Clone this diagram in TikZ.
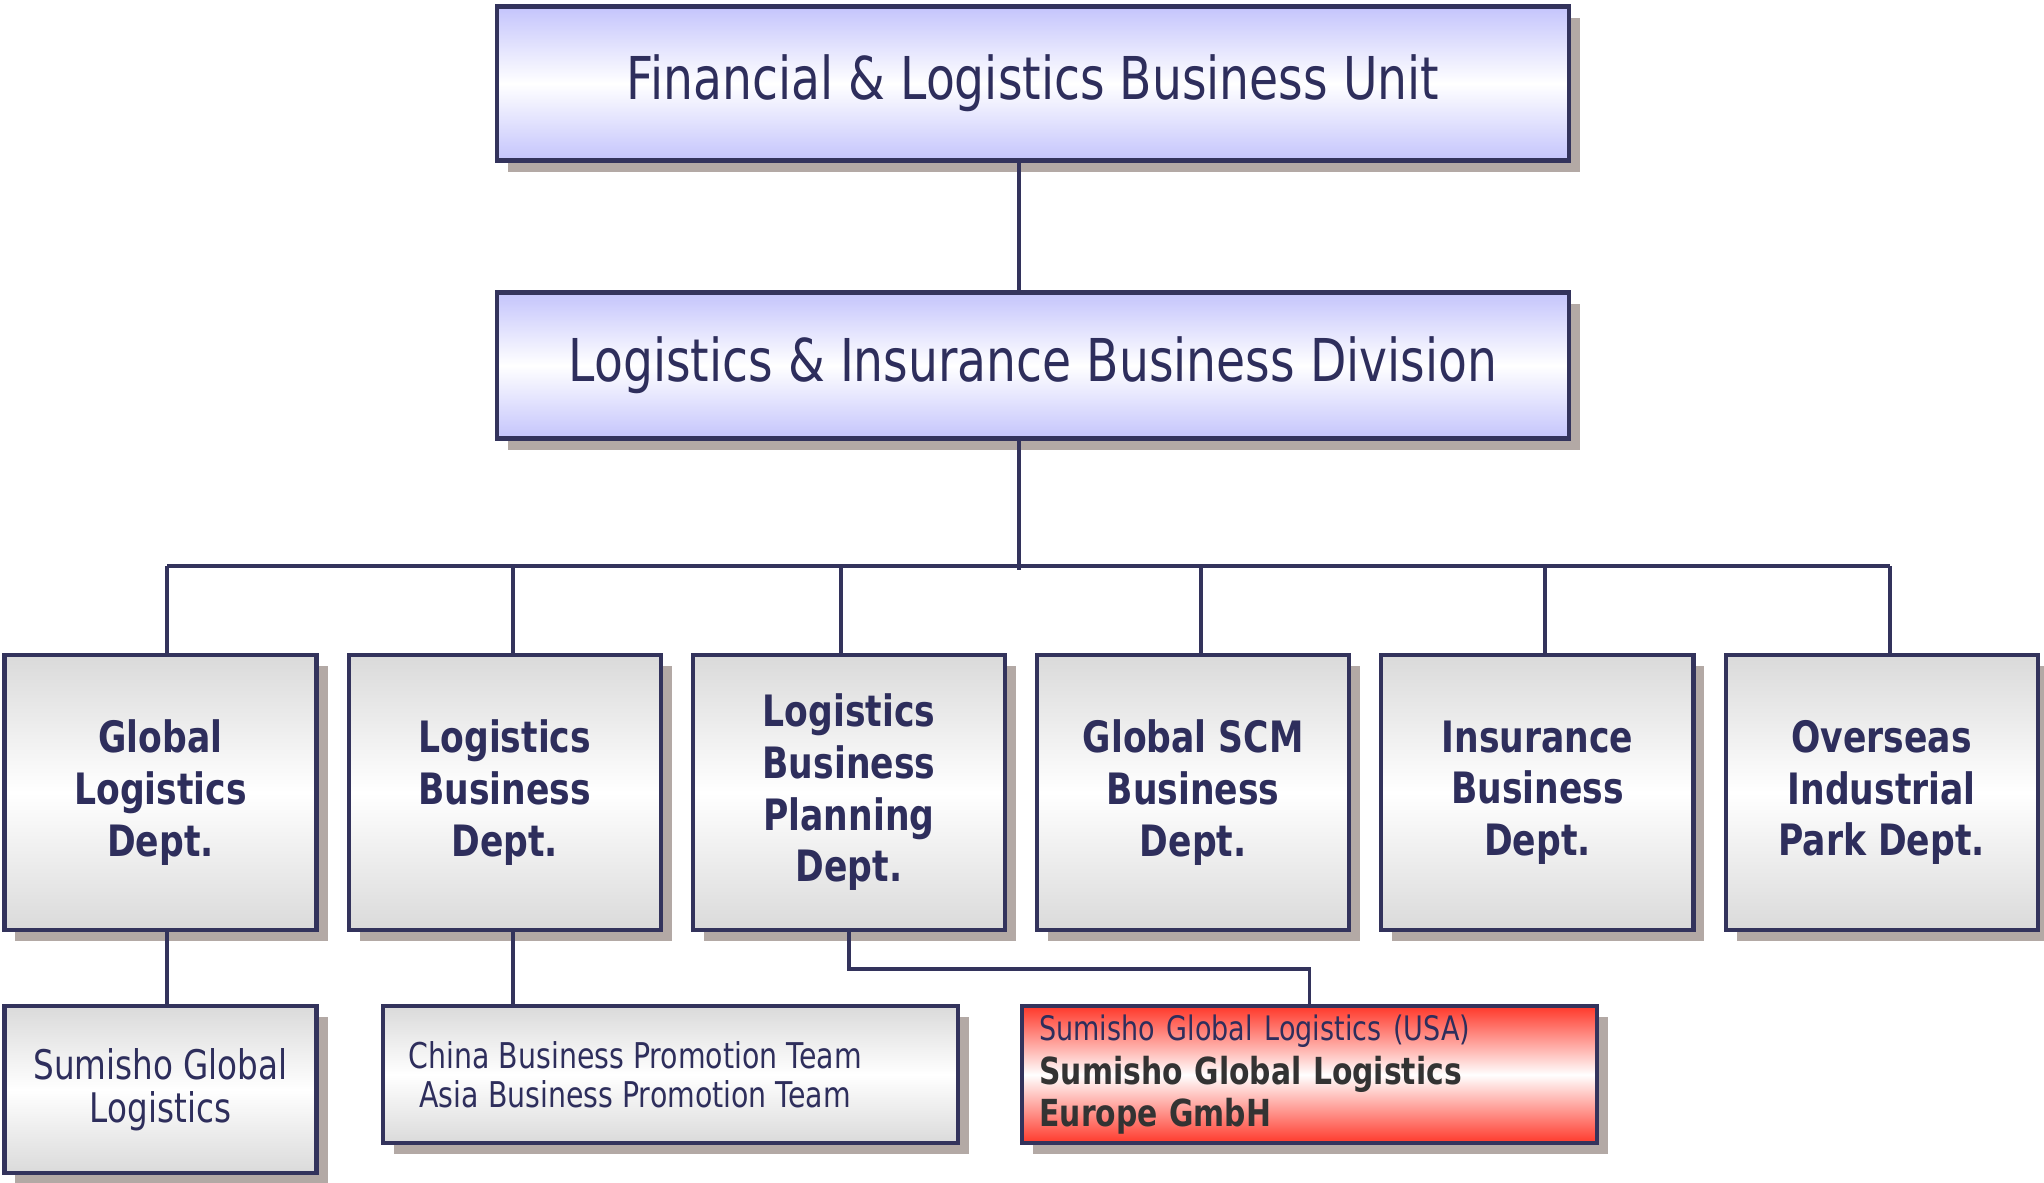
\documentclass[tikz,border=0pt]{standalone}
\usepackage{fontspec}
\setmainfont{DejaVu Sans}[FakeStretch=0.8]
\usetikzlibrary{positioning, shadows}

\definecolor{frame}{RGB}{51,51,92}
\definecolor{ink}{RGB}{46,46,92}
\definecolor{lav}{RGB}{196,196,252}
\definecolor{lgray}{RGB}{218,218,218}
\definecolor{hot}{RGB}{255,56,42}
\definecolor{shade}{RGB}{179,169,165}
\definecolor{dgray}{RGB}{51,51,51}

\tikzset{
  box/.style={draw=frame, line width=1.2pt, text=ink, align=center, inner sep=0pt,
    drop shadow={shadow xshift=0.11cm, shadow yshift=-0.11cm, fill=shade, opacity=1}},
  unit/.style={box, top color=lav, bottom color=lav, middle color=white,
    minimum width=10.72cm, font=\fontsize{16.8}{19}\selectfont},
  dept/.style={box, top color=lgray, bottom color=lgray, middle color=white,
    minimum width=3.12cm, minimum height=2.75cm, font=\bfseries\fontsize{12.3}{14.7}\selectfont},
  team/.style={box, top color=lgray, bottom color=lgray, middle color=white},
  link/.style={draw=frame, line width=1.1pt}
}

\begin{document}
\begin{tikzpicture}
        \useasboundingbox (0,0) rectangle (20.44,-11.82);
        \node[unit, minimum height=1.54cm] (flbu) at (10.33,-0.835) {Financial \& Logistics Business Unit};
        \node[unit, minimum height=1.46cm] (libd) at (10.33,-3.655) {Logistics \& Insurance Business Division};
        %---------------------------
        \node[dept] (gld) at (1.605,-7.925) {Global\\Logistics\\Dept.};
        \node[dept, right=0.28cm of gld] (lbd) {Logistics\\Business\\Dept.};
        \node[dept, right=0.28cm of lbd] (lbp) {Logistics\\Business\\Planning\\Dept.};
        \node[dept, right=0.28cm of lbp] (scm) {Global SCM\\Business\\Dept.};
        \node[dept, right=0.28cm of scm] (ibd) {Insurance\\Business\\Dept.};
        \node[dept, right=0.28cm of ibd] (oip) {Overseas\\Industrial\\Park Dept.};
        %---------------------------
        \node[team, minimum width=3.12cm, minimum height=1.67cm, below=0.72cm of gld,
          font=\fontsize{11.6}{12.4}\selectfont] (sgl) {Sumisho Global\\Logistics};
        \node[team, minimum width=5.75cm, minimum height=1.37cm, anchor=north west,
          label={[text=ink, align=center, xshift=-0.35cm, font=\fontsize{10.1}{11}\selectfont]center:China Business Promotion Team\\Asia Business Promotion Team}]
          (cbp) at ([xshift=0.62cm]sgl.north east) {};
        \node[team, top color=hot, bottom color=hot, middle color=white, minimum height=1.37cm, anchor=north west,
          text width=5.4cm, inner xsep=0.175cm, align=left] (sgle) at ([xshift=0.6cm]cbp.north east)
          {\fontsize{9.6}{11.6}\selectfont Sumisho Global Logistics (USA)\\
           \fontsize{10.6}{12.4}\selectfont\bfseries\color{dgray}Sumisho Global Logistics\\Europe GmbH};
        %--------------------------
        \coordinate (bus) at (0,-5.66);
        \draw[link] ([xshift=-0.14cm]flbu.south) -- ([xshift=-0.14cm]libd.north);
        \draw[link] ([xshift=-0.14cm]libd.south) -- ([xshift=-0.14cm,yshift=-0.04cm]libd.south |- bus);
        \draw[link] ([xshift=0.065cm]gld.north |- bus) -- ([xshift=0.08cm]oip.north |- bus);
        \foreach \d/\s in {gld/0.065, lbd/0.08, lbp/-0.08, scm/0.08, ibd/0.08, oip/0.08}
          \draw[link] ([xshift=\s cm]\d.north) -- ([xshift=\s cm]\d.north |- bus);
        \draw[link] ([xshift=0.065cm]gld.south) -- ([xshift=0.065cm]gld.south |- sgl.north);
        \draw[link] ([xshift=0.08cm]lbd.south) -- ([xshift=0.08cm]lbd.south |- cbp.north);
        \draw[link] (lbp.south) -- ++(0,-0.37) -| (sgle.north);
        \end{tikzpicture}
\end{document}
